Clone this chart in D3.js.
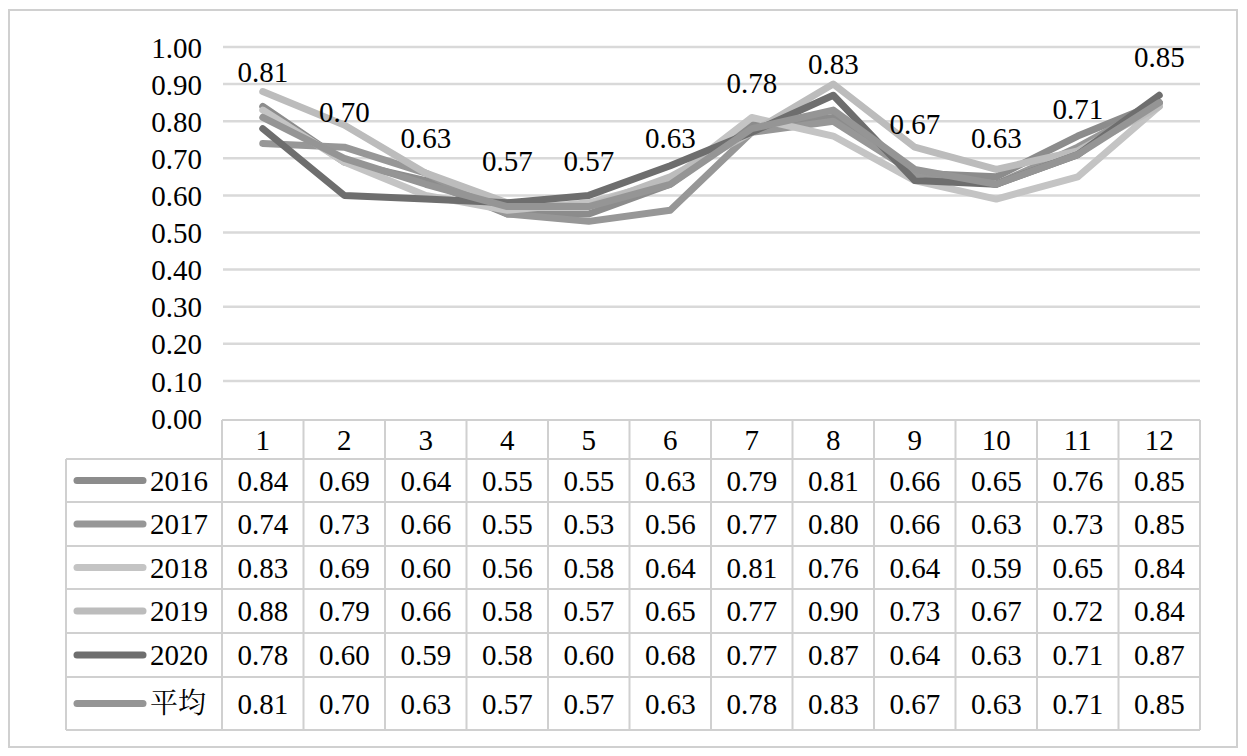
<!DOCTYPE html>
<html>
<head>
<meta charset="utf-8">
<script src="https://cdn.jsdelivr.net/npm/d3@7"></script>
<style>
  html, body { margin: 0; padding: 0; background: #fff; }
  svg { display: block; }
</style>
</head>
<body>
<svg id="chart" width="1247" height="756"></svg>
<script>
const months = ["1","2","3","4","5","6","7","8","9","10","11","12"];
const seriesNames = ["2016","2017","2018","2019","2020","平均"];
const s2016 = [0.84,0.69,0.64,0.55,0.55,0.63,0.79,0.81,0.66,0.65,0.76,0.85];
const s2017 = [0.74,0.73,0.66,0.55,0.53,0.56,0.77,0.80,0.66,0.63,0.73,0.85];
const s2018 = [0.83,0.69,0.60,0.56,0.58,0.64,0.81,0.76,0.64,0.59,0.65,0.84];
const s2019 = [0.88,0.79,0.66,0.58,0.57,0.65,0.77,0.90,0.73,0.67,0.72,0.84];
const s2020 = [0.78,0.60,0.59,0.58,0.60,0.68,0.77,0.87,0.64,0.63,0.71,0.87];
const sAvg  = [0.81,0.70,0.63,0.57,0.57,0.63,0.78,0.83,0.67,0.63,0.71,0.85];
const yTicks = [0,0.1,0.2,0.3,0.4,0.5,0.6,0.7,0.8,0.9,1.0];
const colors = ["#8c8c8c","#979797","#c4c4c4","#bcbcbc","#6e6e6e","#959595"];

const FONT = "Liberation Serif";
const allSeries = [s2016,s2017,s2018,s2019,s2020,sAvg];
const svg = d3.select("#chart");
const styleText = sel => sel.attr("font-family",FONT).attr("font-size",29).attr("fill","#000");

// outer border
svg.append("rect").attr("x",9).attr("y",10).attr("width",1228).attr("height",737)
  .attr("fill","#fff").attr("stroke","#d0d0d0").attr("stroke-width",2);

const x = d3.scaleBand().domain(months).range([222,1200]).padding(0);
const cx = m => x(m) + x.bandwidth()/2;
const y = d3.scaleLinear().domain([0,1]).range([418,47]);

// gridlines
svg.append("g").selectAll("line").data(yTicks.filter(d=>d>0)).join("line")
  .attr("x1",223).attr("x2",1200)
  .attr("y1",d=>y(d)).attr("y2",d=>y(d))
  .attr("stroke","#d9d9d9").attr("stroke-width",2.5);

// y axis labels
const yAxis = d3.axisLeft(y).tickValues(yTicks).tickFormat(d3.format(".2f")).tickSize(0).tickPadding(0);
const ga = svg.append("g").attr("transform","translate(202,0)").call(yAxis);
ga.select(".domain").remove();
ga.attr("font-family",FONT).attr("font-size",29);
styleText(ga.selectAll("text")).attr("dy","0.35em");

// lines
const line = d3.line().x((d,i)=>cx(months[i])).y(d=>y(d));
svg.append("g").selectAll("path").data(allSeries).join("path")
  .attr("d",d=>line(d))
  .attr("fill","none")
  .attr("stroke",(d,i)=>colors[i])
  .attr("stroke-width",7)
  .attr("stroke-linejoin","round")
  .attr("stroke-linecap","round");

// data labels for average
styleText(svg.append("g").selectAll("text").data(sAvg).join("text")
  .attr("x",(d,i)=>cx(months[i]))
  .attr("y",d=>y(d)-46)
  .attr("dy","0.35em")
  .attr("text-anchor","middle")
  .text(d=>d3.format(".2f")(d)));

// data table
const rowEdges = [459,502,546,589,633,677,730];
const tbl = svg.append("g");
const gridStroke = "#d0d0d0";
tbl.append("line").attr("x1",222).attr("x2",1200).attr("y1",420).attr("y2",420).attr("stroke",gridStroke).attr("stroke-width",2);
tbl.selectAll("line.h").data(rowEdges).join("line").attr("class","h")
  .attr("x1",66).attr("x2",1200).attr("y1",d=>d).attr("y2",d=>d)
  .attr("stroke",gridStroke).attr("stroke-width",2);
const vx = months.map(m=>x(m)).concat([1200]);
tbl.selectAll("line.v").data(vx).join("line").attr("class","v")
  .attr("x1",d=>d).attr("x2",d=>d).attr("y1",420).attr("y2",730)
  .attr("stroke",gridStroke).attr("stroke-width",2);
tbl.append("line").attr("x1",66).attr("x2",66).attr("y1",459).attr("y2",730).attr("stroke",gridStroke).attr("stroke-width",2);

styleText(tbl.selectAll("text.hdr").data(months).join("text").attr("class","hdr")
  .attr("x",d=>cx(d)).attr("y",440).attr("dy","0.35em").attr("text-anchor","middle")
  .text(d=>d));

allSeries.forEach((s,r)=>{
  const yc = (rowEdges[r]+rowEdges[r+1])/2;
  tbl.append("line").attr("x1",77).attr("x2",143).attr("y1",yc).attr("y2",yc)
    .attr("stroke",colors[r]).attr("stroke-width",7).attr("stroke-linecap","round");
  const lbl = styleText(tbl.append("text").attr("x",150).attr("y",yc).attr("dy","0.35em")
    .text(seriesNames[r]));
  if (/[^\x00-\x7F]/.test(seriesNames[r])) lbl.attr("font-family","Noto Serif CJK SC").attr("font-size",28);
  styleText(tbl.append("g").selectAll("text").data(s).join("text")
    .attr("x",(d,i)=>cx(months[i])).attr("y",yc).attr("dy","0.35em").attr("text-anchor","middle")
    .text(d=>d3.format(".2f")(d)));
});
</script>
</body>
</html>
